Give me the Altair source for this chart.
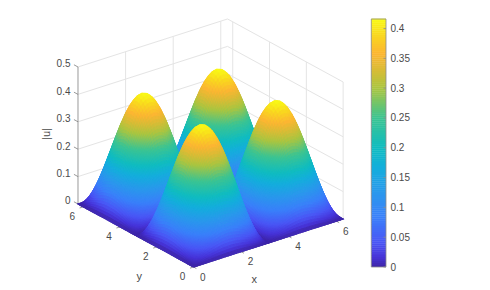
import altair as alt
import pandas as pd

# --- values ---
# rise of one bump from the floor to its top: position along an axis, and relative height there
rise_pos = [0, .0250, .0500, .0751, .1002, .1253, .1506, .1759, .2014, .2270, .2527, .2786, .3047, .3311,
            .3576, .3844, .4115, .4390, .4668, .4949, .5236, .5525, .5824, .6124, .6435, .6751, .7076,
            .7408, .7754, .8110, .8481, .8868, .9273, .9695, 1.0160, 1.0654, 1.1198, 1.1810, 1.2532,
            1.3467, 1.4500, 1.5708]
rise_val = [0, .025, .05, .075, .1, .125, .15, .175, .2, .225, .25, .275, .3, .325, .35, .375, .4, .425,
            .45, .475, .5, .525, .55, .575, .6, .625, .65, .675, .7, .725, .75, .775, .8, .825, .85,
            .875, .9, .925, .95, .975, .993, 1]
peak = 0.416
half_span = 3.1416
x_max = y_max = 6.2832
z_max = 0.5
x_ticks = [0, 2, 4, 6]
y_ticks = [0, 2, 4, 6]
z_ticks = [0, 0.1, 0.2, 0.3, 0.4, 0.5]
bar_ticks = [0, 0.05, 0.1, 0.15, 0.2, 0.25, 0.3, 0.35, 0.4]
bar_labels = ["0", "0.05", "0.1", "0.15", "0.2", "0.25", "0.3", "0.35", "0.4"]
stop_pos = [0, .04, .10, .20, .30, .40, .48, .60, .72, .80, .86, .93, 1.0]
stop_col = ["#3e26a8", "#4734d8", "#4a56f5", "#3a80fa", "#2a98ec", "#14aedc", "#10bcc0",
            "#3cc492", "#aac540", "#dcbb35", "#fcb632", "#f9d520", "#f9fb15"]

GRID = "#e4e4e4"
AXIS = "#7f7f7f"
TEXT = "#4a4a4a"
FONT = "Liberation Sans"
W, H = 474, 278
PAD = 8


# view of the 3-D box (image pixels)
def project(x, y, z):
    return (193.6 + 23.8 * x - 18.4 * y, 267.0 - 7.64 * x - 10.03 * y - 274.0 * z)


pos_one = rise_pos + [half_span - p for p in reversed(rise_pos[:-1])]
val_one = rise_val + list(reversed(rise_val[:-1]))
pos = pos_one + [half_span + p for p in pos_one[1:]]
val = val_one + val_one[1:]
n = len(pos)

features = []
for i in range(n - 2, -1, -1):
    for j in range(n - 2, -1, -1):
        corners = [(i, j), (i + 1, j), (i + 1, j + 1), (i, j + 1)]
        heights = [peak * val[a] * val[b] for a, b in corners]
        ring = [project(pos[a], pos[b], h) for (a, b), h in zip(corners, heights)]
        # faces turned away from the viewer are always covered by nearer ones
        area = sum(ring[k][0] * ring[(k + 1) % 4][1] - ring[(k + 1) % 4][0] * ring[k][1] for k in range(4))
        if area >= 0 and max(heights) > 0:
            continue
        coords = [[round(px, 2), round(py, 2)] for px, py in ring]
        coords.append(coords[0])
        features.append({"type": "Feature", "geometry": {"type": "Polygon", "coordinates": [coords]},
                         "properties": {"v": round(sum(heights) / 4, 4)}})

color_scale = alt.Scale(domain=[p * peak for p in stop_pos], range=stop_col, clamp=True, interpolate="rgb")
xs = alt.Scale(domain=[PAD, PAD + W], range=[0, W])
ys = alt.Scale(domain=[PAD, PAD + H], range=[0, H])


def seg(p, q):
    return {"x": p[0], "y": p[1], "x2": q[0], "y2": q[1]}


grid = []
for x in x_ticks[1:]:
    grid.append(seg(project(x, y_max, 0), project(x, y_max, z_max)))
for y in y_ticks:
    grid.append(seg(project(x_max, y, 0), project(x_max, y, z_max)))
for z in z_ticks:
    grid.append(seg(project(0, y_max, z), project(x_max, y_max, z)))
    grid.append(seg(project(x_max, y_max, z), project(x_max, 0, z)))

axes = [seg(project(0, y_max, 0), project(0, y_max, z_max))]
axes.append(seg(project(0, 0, 0), project(x_max, 0, 0)))
axes.append(seg(project(0, 0, 0), project(0, y_max, 0)))
for z in z_ticks:
    axes.append(seg(project(0, y_max, z), project(0, y_max + 0.22, z)))
for x in x_ticks:
    axes.append(seg(project(x, 0, 0), project(x, -0.15, 0)))
for y in y_ticks:
    axes.append(seg(project(0, y, 0), project(-0.15, y, 0)))


def rules(rows, color, width=1.0):
    return alt.Chart(pd.DataFrame(rows)).mark_rule(color=color, strokeWidth=width).encode(
        x=alt.X("x:Q", scale=xs, axis=None), y=alt.Y("y:Q", scale=ys, axis=None), x2="x2:Q", y2="y2:Q")


surface = alt.Chart(alt.Data(values=features)).mark_geoshape(strokeWidth=1.1, opacity=1, fillOpacity=1, strokeOpacity=1).encode(
    color=alt.Color("properties.v:Q", scale=color_scale, legend=None),
    stroke=alt.Stroke("properties.v:Q", scale=color_scale, legend=None),
).project(type="identity", scale=1, translate=[-PAD, -PAD])

labels = []
for x in x_ticks:
    p = project(x, 0, 0)
    labels.append({"x": p[0] + 9.3, "y": p[1] + 10.6, "t": str(x)})
for y in y_ticks:
    p = project(0, y, 0)
    labels.append({"x": p[0] - 11, "y": p[1] + 9.8, "t": str(y)})


def texts(rows, align="center", angle=0, size=10):
    return alt.Chart(pd.DataFrame(rows)).mark_text(
        font=FONT, fontSize=size, color=TEXT, align=align, baseline="middle", angle=angle
    ).encode(x=alt.X("x:Q", scale=xs, axis=None), y=alt.Y("y:Q", scale=ys, axis=None), text="t:N")


zlabels = []
for z in z_ticks:
    p = project(0, y_max, z)
    zlabels.append({"x": 70.5, "y": p[1] - 2.6, "t": ("%g" % z)})

# colour bar
BAR_L, BAR_R, BAR_B, BAR_T = 371.3, 386.0, 267.0, 19.0
per = (BAR_B - BAR_T) / peak
levels = [peak * k / 128 for k in range(128)]
bar = pd.DataFrame({
    "v": [lv + peak / 256 for lv in levels],
    "x": BAR_L, "x2": BAR_R,
    "y": [BAR_B - lv * per for lv in levels],
    "y2": [BAR_B - (lv + peak / 128) * per - 0.4 for lv in levels],
})
bar_layer = alt.Chart(bar).mark_rect().encode(
    x=alt.X("x:Q", scale=xs, axis=None), x2="x2:Q",
    y=alt.Y("y:Q", scale=ys, axis=None), y2="y2:Q",
    color=alt.Color("v:Q", scale=color_scale, legend=None))
frame = [seg((BAR_L, BAR_B), (BAR_R, BAR_B)), seg((BAR_L, BAR_T), (BAR_R, BAR_T)),
         seg((BAR_L, BAR_B), (BAR_L, BAR_T)), seg((BAR_R, BAR_B), (BAR_R, BAR_T))]
for t in bar_ticks:
    yy = BAR_B - t * per
    frame.append(seg((BAR_R - 2.5, yy), (BAR_R, yy)))
bar_text = [{"x": 390.5, "y": BAR_B - t * per + 0.5, "t": s} for t, s in zip(bar_ticks, bar_labels)]

chart = alt.layer(
    rules(grid, GRID),
    rules(axes, AXIS, 0.8),
    surface,
    texts(labels),
    texts(zlabels, align="right"),
    texts([{"x": 254.3, "y": 280, "t": "x"}, {"x": 139.3, "y": 277, "t": "y"}], size=11),
    texts([{"x": 47, "y": 134, "t": "|u|"}], angle=270, size=11),
    bar_layer,
    rules(frame, "#8c8c8c", 0.8),
    texts(bar_text, align="left"),
).resolve_scale(color="shared").properties(
    width=W, height=H, padding=0, autosize=alt.AutoSizeParams(type="none"),
    background="white",
).configure_view(stroke=None)

chart.save("out.html", embed_options={"renderer": "svg", "actions": False})
